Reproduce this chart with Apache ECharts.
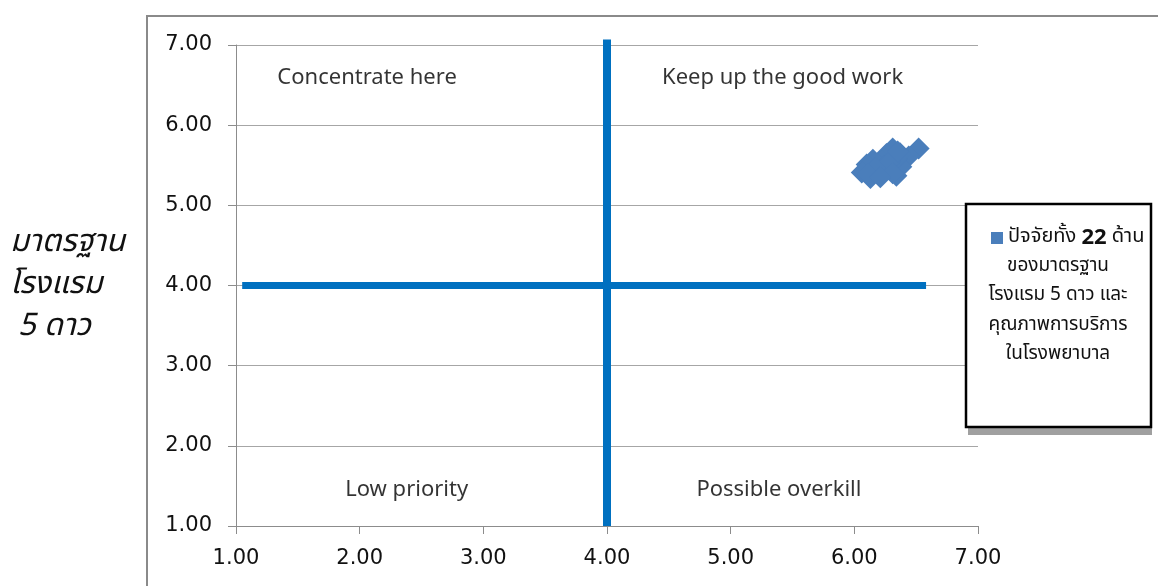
<!DOCTYPE html>
<html>
<head>
<meta charset="utf-8">
<script src="https://cdn.jsdelivr.net/npm/echarts@6/dist/echarts.min.js"></script>
<style>
  html, body { margin: 0; padding: 0; background: #fff; }
  #chart { width: 1158px; height: 586px; }
</style>
</head>
<body>
<div id="chart"></div>
<script>
// Importance–performance grid: 22 service factors
const factorX = [6.52, 6.44, 6.31, 6.26, 6.22, 6.15, 6.10, 6.06, 6.13, 6.19, 6.27,
                 6.34, 6.38, 6.34, 6.24, 6.17, 6.37, 6.29, 6.11, 6.31, 6.21, 6.35];
const factorY = [5.71, 5.61, 5.71, 5.64, 5.55, 5.57, 5.51, 5.41, 5.34, 5.42, 5.45,
                 5.37, 5.48, 5.58, 5.50, 5.47, 5.65, 5.55, 5.39, 5.40, 5.35, 5.67];

// Quadrant dividers
const hDivider = [[1.05, 4.0], [6.58, 4.0]];
const vDivider = [[4.0, 1.0], [4.0, 7.07]];

// Quadrant captions and where they sit (data units)
const quadrantNames = ['Concentrate here', 'Keep up the good work', 'Low priority', 'Possible overkill'];
const quadrantX = [2.06, 5.42, 2.38, 5.39];
const quadrantY = [6.59, 6.59, 1.45, 1.45];

const seriesName = 'ปัจจัยทั้ง 22 ด้าน';
const legendLines = ['ของมาตรฐาน', 'โรงแรม 5 ดาว และ', 'คุณภาพการบริการ', 'ในโรงพยาบาล'];
const yAxisTitle = ['มาตรฐาน', 'โรงแรม', ' 5 ดาว'];

const axisMin = 1, axisMax = 7, axisStep = 1;

const FONT = '"Noto Sans", "Open Sans", Tahoma, sans-serif';
const TICK_FONT = '"DejaVu Sans", Tahoma, sans-serif';
const THAI = 'Tahoma, "Noto Sans Thai", "Noto Sans", sans-serif';

const chart = echarts.init(document.getElementById('chart'), null, { renderer: 'canvas' });

const option = {
  backgroundColor: '#fff',
  animation: false,
  grid: { left: 236, top: 45, right: 180, bottom: 60, containLabel: false },
  xAxis: {
    type: 'value', min: axisMin, max: axisMax, interval: axisStep,
    axisLine: { show: true, lineStyle: { color: '#8c8c8c', width: 1 } },
    axisTick: { show: true, length: 8, lineStyle: { color: '#8c8c8c' } },
    splitLine: { show: false },
    axisLabel: { color: '#111', fontSize: 21, fontFamily: TICK_FONT, margin: 22,
                 formatter: v => v.toFixed(2) }
  },
  yAxis: {
    type: 'value', min: axisMin, max: axisMax, interval: axisStep,
    axisLine: { show: true, lineStyle: { color: '#8c8c8c', width: 1 } },
    axisTick: { show: true, length: 8, lineStyle: { color: '#8c8c8c' } },
    splitLine: { show: true, lineStyle: { color: '#a6a6a6', width: 1 } },
    axisLabel: { color: '#111', fontSize: 21, fontFamily: TICK_FONT, margin: 24,
                 formatter: v => v.toFixed(2) }
  },
  legend: {
    left: 986, top: 222, z: 50,
    icon: 'rect', itemWidth: 12, itemHeight: 12, itemGap: 8,
    data: [seriesName],
    formatter: () => '{a|ปัจจัยทั้ง }{b|22}{a| ด้าน}',
    textStyle: {
      rich: {
        a: { fontSize: 20, fontFamily: THAI, color: '#111' },
        b: { fontSize: 22, fontWeight: 'bold', fontFamily: FONT, color: '#111' }
      }
    }
  },
  graphic: [
    // outer chart frame
    { type: 'rect', shape: { x: 147, y: 16, width: 1100, height: 700 },
      style: { fill: 'none', stroke: '#8a8a8a', lineWidth: 2 }, z: 1 },
    // legend panel with drop shadow
    { type: 'rect', shape: { x: 968, y: 212, width: 184, height: 223 },
      style: { fill: '#a0a0a0' }, z: 10 },
    { type: 'rect', shape: { x: 966, y: 204, width: 185, height: 223 },
      style: { fill: '#fff', stroke: '#000', lineWidth: 2.5 }, z: 11 },
    ...legendLines.map((t, i) => ({
      type: 'text', z: 12,
      x: 1058, y: 267 + i * 29.5,
      style: { text: t, fill: '#111', font: '19px ' + THAI,
               textAlign: 'center', textVerticalAlign: 'middle' }
    })),
    // y-axis title
    ...yAxisTitle.map((t, i) => ({
      type: 'text', z: 12,
      x: 10, y: 245 + i * 42,
      style: { text: t, fill: '#111', font: 'italic 31px ' + THAI,
               textAlign: 'left', textVerticalAlign: 'middle' }
    }))
  ],
  series: [
    {
      name: 'hDivider', type: 'line', data: hDivider, symbol: 'none', clip: false,
      lineStyle: { color: '#0070c0', width: 7, cap: 'butt' }, z: 3, silent: true
    },
    {
      name: 'vDivider', type: 'line', data: vDivider, symbol: 'none', clip: false,
      lineStyle: { color: '#0070c0', width: 8, cap: 'butt' }, z: 3, silent: true
    },
    {
      name: seriesName, type: 'scatter', symbol: 'diamond', symbolSize: 22,
      itemStyle: { color: '#4a7ebb', opacity: 1 },
      data: factorX.map((x, i) => [x, factorY[i]]), z: 4
    },
    {
      name: 'captions', type: 'scatter', symbolSize: 0, silent: true,
      data: quadrantNames.map((n, i) => ({ value: [quadrantX[i], quadrantY[i]], name: n })),
      label: { show: true, position: 'inside', formatter: p => p.name,
               color: '#000', fontSize: 22, fontFamily: FONT }
    }
  ]
};

chart.setOption(option);
</script>
</body>
</html>
